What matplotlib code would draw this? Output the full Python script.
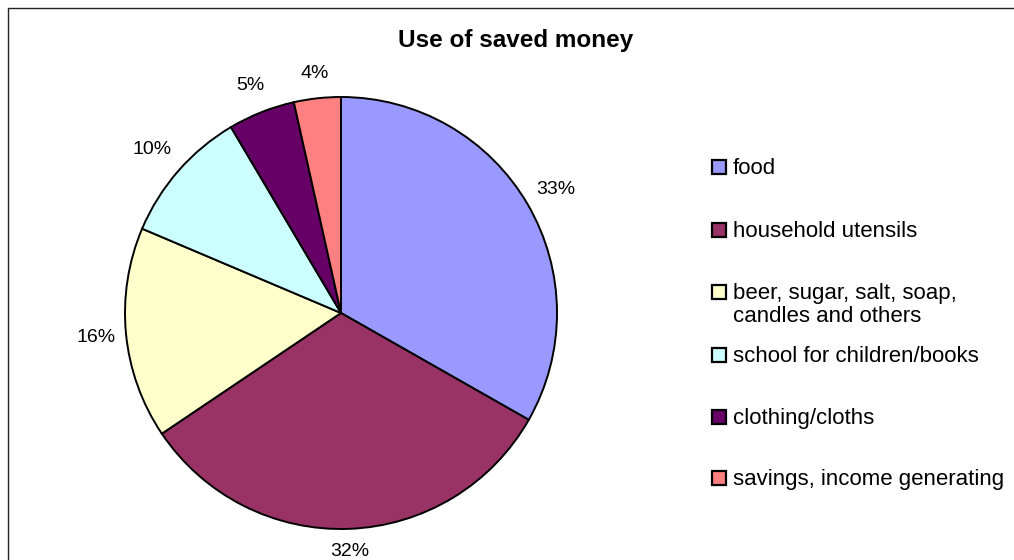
import numpy as np
import matplotlib
matplotlib.use('Agg')
import matplotlib.pyplot as plt
from matplotlib.patches import Rectangle

plt.rcParams['font.family'] = ['Liberation Sans', 'DejaVu Sans']

# Share of saved money by use (%)
categories = ['food', 'household utensils',
              'beer, sugar, salt, soap,\ncandles and others',
              'school for children/books', 'clothing/cloths',
              'savings, income generating']
shares = [33.2, 32.3, 15.8, 10.1, 5.0, 3.5]
colors = ['#9999FF', '#993366', '#FFFFCC', '#CCFFFF', '#660066', '#FF8080']

# label distance from centre, in pie radii
label_dist = [1.15, 1.10, 1.14, 1.16, 1.14, 1.12]

W, H = 1014, 560
fig = plt.figure(figsize=(W / 100, H / 100), dpi=100)

# pie centre and radius in pixels
cx, cy, R = 341, 313, 216
ax = fig.add_axes([0, 0, 1, 1])
wedges, _ = ax.pie(shares, colors=colors, startangle=90, counterclock=False,
                   radius=1.0, center=(0, 0),
                   wedgeprops=dict(edgecolor='black', linewidth=1.4))
ax.set_xlim(-cx / R, (W - cx) / R)
ax.set_ylim(-(H - cy) / R, cy / R)
ax.set_aspect('equal')
ax.axis('off')

total = sum(shares)
for w, v, d in zip(wedges, shares, label_dist):
    mid = np.deg2rad((w.theta1 + w.theta2) / 2)
    ax.text(d * np.cos(mid), d * np.sin(mid) - 0.005, f'{100 * v / total:.0f}%',
            ha='center', va='center', fontsize=14, color='black')

fig.text(516 / W, 1 - 41 / H, 'Use of saved money', ha='center', va='center',
         fontsize=17.5, fontweight='bold')

# legend: square swatch + label per entry
leg_y = [167, 230, 292, 355, 417, 478]
for lab, col, y in zip(categories, colors, leg_y):
    fig.add_artist(Rectangle((712 / W, 1 - (y + 7) / H), 14 / W, 14 / H,
                             transform=fig.transFigure, facecolor=col,
                             edgecolor='black', linewidth=1.6))
    fig.text(733 / W, 1 - (y - 9) / H, lab, ha='left', va='top',
             fontsize=16, linespacing=1.1)

# outer chart border (runs past right and bottom edges)
fig.add_artist(Rectangle((7.5 / W, -0.1), 1.2, 1.1 - 8 / H,
                         transform=fig.transFigure, facecolor='none',
                         edgecolor='#222222', linewidth=1.0))

fig.savefig('out.png', dpi=100)
